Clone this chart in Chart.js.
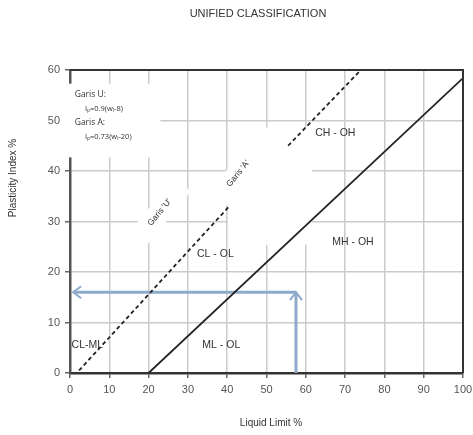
<!DOCTYPE html>
<html>
<head>
<meta charset="utf-8">
<script src="https://cdn.jsdelivr.net/npm/chart.js@4/dist/chart.umd.min.js"></script>
<style>
html,body{margin:0;padding:0;background:#fff;}
#wrap{width:473px;height:435px;}
</style>
</head>
<body>
<div id="wrap"><canvas id="plasticityChart"></canvas></div>
<script>
// Plasticity chart data (liquid limit vs plasticity index)

const aLineLL=[20,100];
const aLinePI=[0,58.4];

const uLineLL1=[2.3,40.5];
const uLinePI1=[0.5,33];
const uLineLL2=[55.5,74];
const uLinePI2=[45,60];

const sampleLL=57.5;
const samplePI=16;

const llTicks=[0,10,20,30,40,50,60,70,80,90,100];
const piTicks=[0,10,20,30,40,50,60];

const chartTitle='UNIFIED CLASSIFICATION';
const xTitle='Liquid Limit %';
const yTitle='Plasticity Index %';

// zone names and notes
const zoneNames=['CL-ML','ML - OL','CL - OL','MH - OH','CH - OH'];
const lineNames=["Garis 'U'","Garis 'A'"];
const noteLines=['Garis U:','I\u209A=0.9(w\u2097-8)','Garis A:','I\u209A=0.73(w\u2097-20)'];

function pts(xs,ys){
return xs.map((x,i)=>({x:x,y:ys[i]}));
}

const ink='#222';
const arrowBlue='#8eaacb';
const fontFam='"Liberation Sans", Arial, sans-serif';

// placement of text on the plot (data units)
const zonePlace=[[0.4,5.5,'left'],[38.5,5.5,'center'],[37,23.5,'center'],[72,26,'center'],[67.5,47.5,'center']];
const linePlace=[[22.8,31.8],[42.8,39.5]];
const notePlace=[[1.2,55.2,8.5],[3.8,52.4,7.5],[1.2,49.6,8.5],[3.8,46.8,7.5]];

// white boxes that break the grid (data units)
const blankBoxes=[[-1.5,57.3,23,42.7],[40.2,48.6,61.6,25.4]];

const labelPlugin={
id:'labels',
beforeDatasetsDraw(chart){
const ctx=chart.ctx;
const xs=chart.scales.x, ys=chart.scales.y;
ctx.save();
ctx.fillStyle='#fff';
blankBoxes.forEach(b=>{
const x1=xs.getPixelForValue(b[0]), y1=ys.getPixelForValue(b[1]);
const x2=xs.getPixelForValue(b[2]), y2=ys.getPixelForValue(b[3]);
ctx.fillRect(x1,y1,x2-x1,y2-y1);
});
linePlace.forEach(p=>{
ctx.save();
ctx.translate(xs.getPixelForValue(p[0]),ys.getPixelForValue(p[1]));
ctx.rotate(-51*Math.PI/180);
ctx.fillRect(-36,-11,72,22);
ctx.restore();
});
ctx.restore();
},
afterDatasetsDraw(chart){
const ctx=chart.ctx;
const xs=chart.scales.x, ys=chart.scales.y;
const a=chart.chartArea;
ctx.save();

// frame top and right
ctx.strokeStyle='#333';
ctx.lineWidth=2;
ctx.beginPath();
ctx.moveTo(a.left,a.top);
ctx.lineTo(a.right,a.top);
ctx.lineTo(a.right,a.bottom);
ctx.stroke();

ctx.fillStyle='#333';
ctx.textBaseline='middle';
ctx.font='10.5px '+fontFam;
zoneNames.forEach((t,i)=>{
const p=zonePlace[i];
ctx.textAlign=p[2];
ctx.fillText(t,xs.getPixelForValue(p[0]),ys.getPixelForValue(p[1]));
});

ctx.font='8.5px '+fontFam;
ctx.textAlign='center';
lineNames.forEach((t,i)=>{
const p=linePlace[i];
ctx.save();
ctx.translate(xs.getPixelForValue(p[0]),ys.getPixelForValue(p[1]));
ctx.rotate(-51*Math.PI/180);
ctx.fillText(t,0,0);
ctx.restore();
});

ctx.textAlign='left';
noteLines.forEach((t,i)=>{
const p=notePlace[i];
ctx.font=p[2]+'px "Open Sans", "DejaVu Sans", sans-serif';
ctx.fillText(t,xs.getPixelForValue(p[0]),ys.getPixelForValue(p[1]));
});

// arrow heads
const sx=xs.getPixelForValue(sampleLL), sy=ys.getPixelForValue(samplePI);
const lx=xs.getPixelForValue(0.8);
ctx.strokeStyle=arrowBlue;
ctx.lineWidth=2;
ctx.beginPath();
ctx.moveTo(lx+8,sy-6);
ctx.lineTo(lx,sy);
ctx.lineTo(lx+8,sy+6);
ctx.moveTo(sx-6,sy+8);
ctx.lineTo(sx,sy);
ctx.lineTo(sx+6,sy+8);
ctx.stroke();

// titles
ctx.fillStyle='#333';
ctx.textAlign='center';
ctx.font='11px '+fontFam;
ctx.fillText(chartTitle,258,14);
ctx.font='10px '+fontFam;
ctx.fillText(xTitle,271,423);
ctx.save();
ctx.translate(13,178);
ctx.rotate(-Math.PI/2);
ctx.fillText(yTitle,0,0);
ctx.restore();

ctx.restore();
}
};

const plasticityChart=document.getElementById("plasticityChart");

if(plasticityChart){

new Chart(plasticityChart,{

type:'scatter',

data:{
datasets:[
{
label:'Garis A',
data:pts(aLineLL,aLinePI),
showLine:true,
borderColor:ink,
borderWidth:1.8,
pointRadius:0
},
{
label:'Garis U',
data:pts(uLineLL1,uLinePI1),
showLine:true,
borderColor:ink,
borderWidth:1.8,
borderDash:[4,3],
pointRadius:0
},
{
label:'Garis U 2',
data:pts(uLineLL2,uLinePI2),
showLine:true,
borderColor:ink,
borderWidth:1.8,
borderDash:[4,3],
pointRadius:0
},
{
label:'Sample PI',
data:pts([sampleLL,0.8],[samplePI,samplePI]),
showLine:true,
borderColor:arrowBlue,
borderWidth:3,
pointRadius:0
},
{
label:'Sample LL',
data:pts([sampleLL,sampleLL],[0,samplePI]),
showLine:true,
borderColor:arrowBlue,
borderWidth:3,
pointRadius:0
}
]
},

options:{
responsive:true,
maintainAspectRatio:false,
animation:false,
layout:{padding:{left:0,right:0,top:70,bottom:0}},
plugins:{
legend:{display:false},
tooltip:{enabled:false},
title:{display:false}
},
scales:{
x:{
type:'linear',
min:0,
max:100,
afterBuildTicks(scale){scale.ticks=llTicks.map(v=>({value:v}));},
afterFit(scale){scale.height=62;scale.paddingRight=10;},
ticks:{color:'#555',padding:5,font:{size:11,family:fontFam}},
grid:{color:'#cbcbcb',lineWidth:1.5,tickLength:5,tickColor:'#666'},
border:{color:'#333',width:2.5}
},
y:{
type:'linear',
min:0,
max:60,
afterBuildTicks(scale){scale.ticks=piTicks.map(v=>({value:v}));},
afterFit(scale){scale.width=70;},
ticks:{color:'#555',padding:5,font:{size:11,family:fontFam}},
grid:{color:'#cbcbcb',lineWidth:1.5,tickLength:5,tickColor:'#666'},
border:{color:'#555',width:2.5}
}
}
},

plugins:[labelPlugin]

});

}
</script>
</body>
</html>
